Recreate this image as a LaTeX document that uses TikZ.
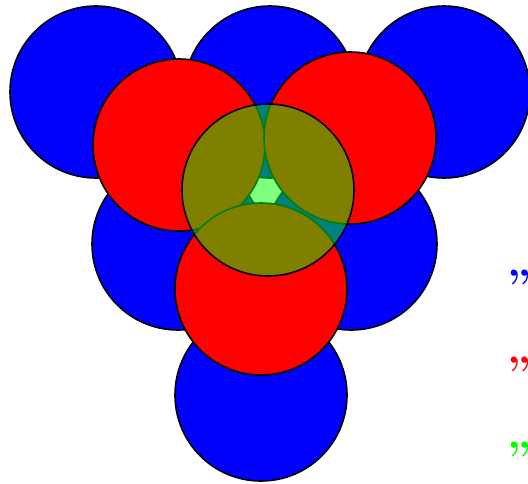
\documentclass[tikz,border=0pt]{standalone}
\usepackage{tikz}
\begin{document}
\begin{tikzpicture}[
    x=1pt, y=-1pt,
    bluedisc/.style={fill=blue,draw=black,line width=1.6pt},
    reddisc/.style={fill=red,draw=black,line width=1.6pt},
    lensdisc/.style={fill=green,fill opacity=.5,draw=black,draw opacity=1,line width=1.6pt},
    every node/.style={font=\fontsize{44}{50}\selectfont\bfseries,inner sep=0pt,anchor=base west}]
    \useasboundingbox (0,0) rectangle (528,483);
    % blue layer
    \draw[bluedisc] (96,92) circle (86);
    \draw[bluedisc] (270,92) circle (86);
    \draw[bluedisc] (444,92) circle (86);
    \draw[bluedisc] (178,244) circle (86);
    \draw[bluedisc] (351,244) circle (86);
    \draw[bluedisc] (261,395) circle (86);
    % red layer
    \draw[reddisc] (179,145) circle (86);
    \draw[reddisc] (350,138) circle (86);
    \draw[reddisc] (261,289) circle (86);
    % green overlay
    \draw[lensdisc] (268,190) circle (86);
    % colour marks
    \node[text=blue] (qblue) at (507,300) {”};
    \node[text=red] (qred) at (507,387) {”};
    \node[text=green] (qgreen) at (507,472) {”};
\end{tikzpicture}
\end{document}
